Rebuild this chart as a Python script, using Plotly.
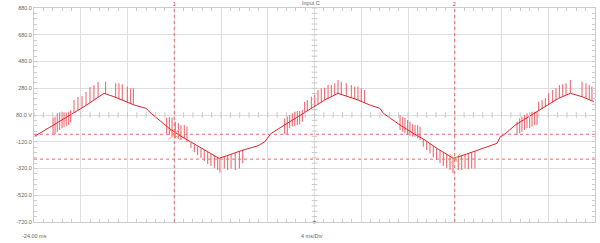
import numpy as np
import plotly.graph_objects as go

# ---- data (time in ms, voltage in V) ----
wave_t = [-24.00, -22.29, -21.18, -19.72, -18.01, -17.16, -15.44, -14.42, -13.99, -13.30,
          -12.45, -11.59, -10.40, -9.45, -8.17, -7.32, -6.12, -4.83, -4.26, -3.70,
          -2.55, -1.41, 0.02, 0.87, 2.01, 2.87, 3.72, 4.72, 5.60, 5.89,
          6.31, 7.32, 8.45, 9.45, 10.46, 11.88, 13.02, 14.31, 15.61, 15.90,
          16.19, 17.18, 18.33, 19.75, 20.89, 21.89, 22.89, 23.89]
wave_v = [-82, 5, 67, 142, 242, 217, 155, 130, 93, 43,
          -19, -70, -132, -182, -244, -219, -182, -150, -120, -57,
          5, 67, 142, 192, 242, 217, 192, 155, 130, 93,
          67, 5, -57, -107, -169, -244, -212, -174, -132, -82,
          -70, 5, 67, 142, 205, 242, 217, 180]

# switching spikes: time, upper end, lower end
spike_t = [
    -22.37, -22.20, -22.01, -21.80, -21.60, -21.43, -21.24, -21.03, -20.86,
    -20.58, -20.24, -19.89, -19.55, -19.21, -18.87, -18.52,
    -17.87, -17.01, -16.73, -16.45, -16.02, -15.73, -15.50,
    -12.65, -12.42, -12.19, -11.91, -11.65, -11.42, -11.14, -10.91,
    -10.57, -10.28, -10.00, -9.71, -9.43, -9.14, -8.86, -8.57, -8.28, -8.09,
    -7.72, -7.43, -7.14, -6.78, -6.43, -6.14,
    -2.55, -2.33, -2.12, -1.90, -1.69, -1.47, -1.27, -1.04,
    -0.84, -0.62, -0.27, 0.02, 0.30, 0.58, 0.87, 1.16, 1.44, 1.73, 2.01,
    2.29, 2.72, 3.15, 3.44, 3.72, 4.00, 4.29,
    7.32, 7.55, 7.74, 7.97, 8.17, 8.40, 8.60, 8.83, 9.03,
    9.31, 9.60, 9.88, 10.16, 10.45, 10.74, 11.02, 11.31, 11.59, 11.85,
    12.30, 12.59, 12.88, 13.16, 13.45, 13.73,
    17.33, 17.56, 17.75, 17.98, 18.18, 18.41, 18.61, 18.84, 19.04,
    19.18, 19.47, 19.75, 20.04, 20.38, 20.66, 20.95, 21.24, 21.52, 21.89,
    22.89, 23.23, 23.51, 23.74]
spike_hi = [
    60, 67, 93, 100, 105, 100, 97, 105, 117,
    192, 215, 222, 252, 289, 304, 327,
    329, 317, 317, 310, 292, 280, 280,
    60, 67, 60, 30, 18, 5, 5, -7,
    -126, -141, -156, -170, -183, -197, -210, -224, -238, -245,
    -231, -222, -214, -203, -192, -182,
    55, 67, 80, 93, 105, 110, 110, 117,
    179, 192, 217, 230, 267, 280, 284, 304, 304, 317, 342,
    329, 317, 304, 292, 292, 280, 267,
    80, 67, 60, 43, 30, 10, 5, 5, -7,
    -99, -116, -133, -151, -169, -184, -199, -214, -229, -242,
    -232, -224, -215, -209, -200, -191,
    30, 55, 67, 80, 93, 93, 105, 105, 105,
    179, 192, 205, 242, 267, 280, 304, 310, 317, 342,
    329, 317, 304, 292]
spike_lo = [
    -64, -62, -47, -32, -19, -10, -3, 5, 25,
    98, 116, 133, 152, 172, 192, 212,
    237, 207, 198, 188, 174, 165, 157,
    -57, -70, -82, -94, -99, -107, -94, -120,
    -167, -197, -219, -242, -264, -286, -301, -316, -331, -351,
    -319, -331, -319, -331, -319, -281,
    -64, -64, -19, -7, 0, 5, 10, 30,
    97, 109, 127, 142, 158, 175, 192, 205, 217, 230, 242,
    234, 221, 209, 200, 192, 182, 171,
    -32, -45, -57, -70, -75, -82, -82, -94, -107,
    -157, -182, -206, -236, -257, -279, -301, -316, -331, -354,
    -331, -331, -319, -324, -319, -319,
    -70, -57, -45, -32, -19, -19, -7, 5, 5,
    112, 127, 142, 158, 176, 192, 207, 218, 229, 242,
    217, 204, 193, 184]

cursor_t = [-12, 12]
cursor_v = [-64, -250]
cursor_names = ["1", "2"]

y_tickvals = [-720, -520, -320, -120, 80, 280, 480, 680, 880]
y_ticktext = ["-720.0", "-520.0", "-320.0", "-120.0", "80.0 V", "280.0", "480.0", "680.0", "880.0"]

T_MIN, T_MAX, T_DIV = -24, 24, 4
V_MIN, V_MAX, V_DIV, V_CENTER = -720, 880, 200, 80

RED = "#e0222c"
CURSOR = "#ee6670"
GRID = "#dedede"
TXT = "#666666"
FONT = "Liberation Sans, Arial, sans-serif"

fig = go.Figure()

# spikes
sx, sy = [], []
for t, hi, lo in zip(spike_t, spike_hi, spike_lo):
    sx += [t, t, None]
    sy += [lo, hi, None]
fig.add_trace(go.Scatter(x=sx, y=sy, mode="lines", line=dict(color="#ec4a55", width=0.9),
                         hoverinfo="skip"))

# main waveform
fig.add_trace(go.Scatter(x=wave_t, y=wave_v, mode="lines", line=dict(color=RED, width=1)))

# centre crosshair minor ticks
mt = np.arange(T_MIN, T_MAX + 1e-9, T_DIV / 5)
fig.add_trace(go.Scatter(x=mt, y=[V_CENTER] * len(mt), mode="markers",
                         marker=dict(symbol="line-ns", size=4, line=dict(color="#c8c8c8", width=1)),
                         hoverinfo="skip"))
mv = np.arange(V_MIN, V_MAX + 1e-9, V_DIV / 5)
fig.add_trace(go.Scatter(x=[0] * len(mv), y=mv, mode="markers",
                         marker=dict(symbol="line-ew", size=4, line=dict(color="#c8c8c8", width=1)),
                         hoverinfo="skip"))

# cursor intersection markers
fig.add_trace(go.Scatter(x=cursor_t, y=cursor_v, mode="markers",
                         marker=dict(symbol="x-thin-open", size=11, line=dict(color="#f3a3ab", width=1)),
                         hoverinfo="skip"))
# trigger marker at bottom centre
fig.add_trace(go.Scatter(x=[0], y=[V_MIN], mode="markers",
                         marker=dict(symbol="circle", size=3, color="#808080"),
                         cliponaxis=False, hoverinfo="skip"))

shapes = []
for t in cursor_t:
    shapes.append(dict(type="line", xref="x", yref="paper", x0=t, x1=t, y0=0, y1=1,
                       line=dict(color=CURSOR, width=1, dash="dot")))
for v in cursor_v:
    shapes.append(dict(type="line", xref="paper", yref="y", x0=0, x1=1, y0=v, y1=v,
                       line=dict(color=CURSOR, width=1, dash="dot")))

annotations = [
    dict(text="Input C", xref="paper", yref="paper", x=0.494, y=1, yanchor="middle",
         yshift=5, showarrow=False, font=dict(size=5.5, color=TXT, family=FONT)),
    dict(text="-24.00 ms", xref="paper", yref="paper", x=0, y=0, xanchor="center",
         yanchor="middle", yshift=-14, showarrow=False, font=dict(size=5.5, color=TXT, family=FONT)),
    dict(text="4 ms/Div", xref="paper", yref="paper", x=0.4955, y=0, xanchor="center",
         yanchor="middle", yshift=-14, showarrow=False, font=dict(size=5.5, color=TXT, family=FONT)),
]
for t, n in zip(cursor_t, cursor_names):
    annotations.append(dict(text=n, xref="x", yref="paper", x=t, y=1, yanchor="middle",
                            yshift=4, showarrow=False, font=dict(size=5, color=RED, family=FONT)))

fig.update_layout(
    width=600, height=243,
    margin=dict(l=34, r=5, t=8, b=21),
    plot_bgcolor="white", paper_bgcolor="white",
    showlegend=False,
    shapes=shapes, annotations=annotations,
    xaxis=dict(range=[T_MIN, T_MAX], tick0=T_MIN, dtick=T_DIV, showgrid=True, gridcolor=GRID,
               gridwidth=1, showticklabels=False, zeroline=False, showline=True,
               linecolor="#cccccc", linewidth=1, mirror="ticks", ticks="inside", ticklen=0,
               tickcolor="#cccccc",
               minor=dict(dtick=T_DIV / 5, ticks="inside", ticklen=3, tickcolor="#cccccc",
                          showgrid=False)),
    yaxis=dict(range=[V_MIN, V_MAX], tickvals=y_tickvals, ticktext=y_ticktext,
               showgrid=True, gridcolor=GRID, gridwidth=1, zeroline=False, showline=True,
               linecolor="#cccccc", linewidth=1, mirror="ticks", ticks="inside", ticklen=0,
               tickcolor="#cccccc", tickfont=dict(size=5.5, color=TXT, family=FONT),
               minor=dict(dtick=V_DIV / 5, tick0=V_CENTER, ticks="inside", ticklen=3,
                          tickcolor="#cccccc", showgrid=False)),
)

fig.write_html("out.html")
